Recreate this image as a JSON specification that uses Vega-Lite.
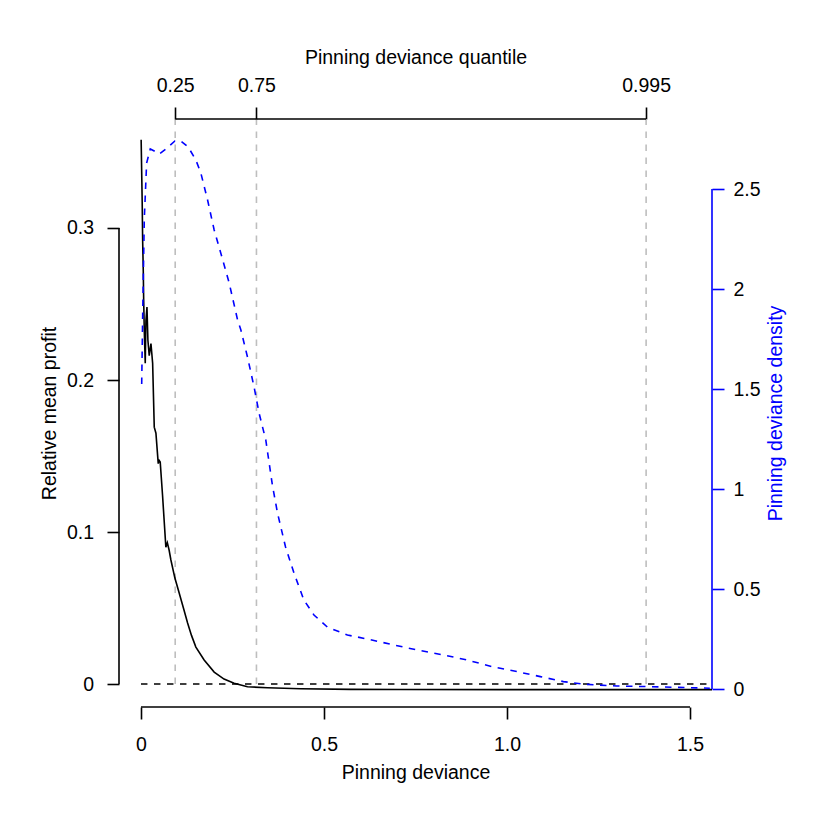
{
  "$schema": "https://vega.github.io/schema/vega-lite/v6.json",
  "width": 593,
  "height": 588,
  "autosize": {"type": "none"},
  "padding": {"left": 119, "top": 119, "right": 118, "bottom": 123},
  "background": "white",
  "config": {
    "view": {"stroke": null},
    "font": "Liberation Sans",
    "axis": {
      "labelFont": "Liberation Sans",
      "titleFont": "Liberation Sans",
      "labelFontSize": 19.5,
      "titleFontSize": 19.5,
      "labelColor": "black",
      "titleColor": "black",
      "titleFontWeight": "normal",
      "tickColor": "black",
      "tickWidth": 1.6,
      "tickSize": 12,
      "domain": false,
      "grid": false,
      "labelFlush": false,
      "labelOverlap": false
    }
  },
  "datasets": {
    "quantiles": [
      {"quantile": "0.25", "deviance": 0.0935},
      {"quantile": "0.75", "deviance": 0.3155},
      {"quantile": "0.995", "deviance": 1.38}
    ],
    "profit": [
      {"deviance": 0.0005, "profit": 0.358},
      {"deviance": 0.0033, "profit": 0.318},
      {"deviance": 0.0046, "profit": 0.292},
      {"deviance": 0.0063, "profit": 0.272},
      {"deviance": 0.0074, "profit": 0.253},
      {"deviance": 0.009, "profit": 0.233},
      {"deviance": 0.0117, "profit": 0.211},
      {"deviance": 0.0136, "profit": 0.239},
      {"deviance": 0.0164, "profit": 0.248},
      {"deviance": 0.019, "profit": 0.226},
      {"deviance": 0.0226, "profit": 0.216},
      {"deviance": 0.0273, "profit": 0.224},
      {"deviance": 0.0319, "profit": 0.211},
      {"deviance": 0.0363, "profit": 0.169},
      {"deviance": 0.0409, "profit": 0.165},
      {"deviance": 0.0472, "profit": 0.145},
      {"deviance": 0.0499, "profit": 0.147},
      {"deviance": 0.0526, "profit": 0.146},
      {"deviance": 0.059, "profit": 0.124},
      {"deviance": 0.068, "profit": 0.09},
      {"deviance": 0.072, "profit": 0.093},
      {"deviance": 0.077, "profit": 0.088},
      {"deviance": 0.0818, "profit": 0.0816},
      {"deviance": 0.0927, "profit": 0.0697},
      {"deviance": 0.1044, "profit": 0.0599},
      {"deviance": 0.116, "profit": 0.05},
      {"deviance": 0.1274, "profit": 0.0401},
      {"deviance": 0.138, "profit": 0.032},
      {"deviance": 0.15, "profit": 0.0243},
      {"deviance": 0.1726, "profit": 0.0158},
      {"deviance": 0.2, "profit": 0.0079},
      {"deviance": 0.227, "profit": 0.0033},
      {"deviance": 0.2544, "profit": 0.0005},
      {"deviance": 0.291, "profit": -0.0018},
      {"deviance": 0.3455, "profit": -0.0024},
      {"deviance": 0.436, "profit": -0.0031},
      {"deviance": 0.5727, "profit": -0.0035},
      {"deviance": 0.709, "profit": -0.0036},
      {"deviance": 1.0, "profit": -0.0037},
      {"deviance": 1.56, "profit": -0.0037}
    ],
    "density": [
      {"deviance": 0.002, "density": 1.525},
      {"deviance": 0.0046, "density": 1.86},
      {"deviance": 0.009, "density": 2.345},
      {"deviance": 0.0155, "density": 2.63},
      {"deviance": 0.0254, "density": 2.7},
      {"deviance": 0.0363, "density": 2.69},
      {"deviance": 0.0499, "density": 2.675},
      {"deviance": 0.0682, "density": 2.7},
      {"deviance": 0.0927, "density": 2.74},
      {"deviance": 0.109, "density": 2.74},
      {"deviance": 0.129, "density": 2.71},
      {"deviance": 0.15, "density": 2.645},
      {"deviance": 0.1636, "density": 2.58},
      {"deviance": 0.182, "density": 2.445},
      {"deviance": 0.2, "density": 2.295},
      {"deviance": 0.218, "density": 2.18},
      {"deviance": 0.241, "density": 2.03},
      {"deviance": 0.264, "density": 1.845},
      {"deviance": 0.273, "density": 1.795},
      {"deviance": 0.291, "density": 1.66},
      {"deviance": 0.309, "density": 1.51},
      {"deviance": 0.3226, "density": 1.38},
      {"deviance": 0.341, "density": 1.245},
      {"deviance": 0.359, "density": 1.02},
      {"deviance": 0.373, "density": 0.88},
      {"deviance": 0.395, "density": 0.71},
      {"deviance": 0.418, "density": 0.58},
      {"deviance": 0.445, "density": 0.445},
      {"deviance": 0.4726, "density": 0.37},
      {"deviance": 0.509, "density": 0.31},
      {"deviance": 0.564, "density": 0.27},
      {"deviance": 0.618, "density": 0.25},
      {"deviance": 0.691, "density": 0.22},
      {"deviance": 0.755, "density": 0.195},
      {"deviance": 0.827, "density": 0.17},
      {"deviance": 0.891, "density": 0.145},
      {"deviance": 0.963, "density": 0.11},
      {"deviance": 1.027, "density": 0.087},
      {"deviance": 1.091, "density": 0.062},
      {"deviance": 1.154, "density": 0.037},
      {"deviance": 1.209, "density": 0.024},
      {"deviance": 1.3, "density": 0.015},
      {"deviance": 1.382, "density": 0.012},
      {"deviance": 1.554, "density": 0.004}
    ]
  },
  "resolve": {"scale": {"x": "independent", "y": "independent"}},
  "layer": [
    {
      "data": {"name": "quantiles"},
      "mark": {"type": "rule", "color": "#BEBEBE", "strokeWidth": 1.6, "strokeDash": [6.5, 6.5]},
      "encoding": {
        "x": {
          "field": "deviance", "type": "quantitative",
          "scale": {"domain": [-0.06, 1.56], "nice": false, "zero": false},
          "axis": {
            "orient": "top",
            "values": [0.0935, 0.3155, 1.38],
            "labelExpr": "datum.value < 0.2 ? '0.25' : (datum.value < 1 ? '0.75' : '0.995')",
            "title": "Pinning deviance quantile",
            "titleX": 296.5, "titleY": -55.5,
            "titleBaseline": "alphabetic",
            "labelBaseline": "alphabetic",
            "labelPadding": 16
          }
        },
        "y": {"datum": 0, "type": "quantitative", "scale": {"domain": [-0.0151, 0.3717], "nice": false, "zero": false}, "axis": null},
        "y2": {"datum": 0.3717}
      }
    },
    {
      "data": {"values": [{}]},
      "mark": {"type": "rule", "color": "black", "strokeWidth": 1.6},
      "encoding": {
        "x": {"datum": 0.0935, "type": "quantitative", "scale": {"domain": [-0.06, 1.56], "nice": false, "zero": false}, "axis": null},
        "x2": {"datum": 1.38},
        "y": {"datum": 0.3717, "type": "quantitative", "scale": {"domain": [-0.0151, 0.3717], "nice": false, "zero": false}, "axis": null}
      }
    },
    {
      "data": {"values": [{}]},
      "mark": {"type": "rule", "color": "black", "strokeWidth": 1.6, "strokeDash": [6.5, 6.5]},
      "encoding": {
        "x": {"datum": 0, "type": "quantitative", "scale": {"domain": [-0.06, 1.56], "nice": false, "zero": false}, "axis": null},
        "x2": {"datum": 1.56},
        "y": {"datum": 0, "type": "quantitative", "scale": {"domain": [-0.0151, 0.3717], "nice": false, "zero": false}, "axis": null}
      }
    },
    {
      "data": {"name": "profit"},
      "mark": {"type": "line", "color": "black", "strokeWidth": 1.6, "clip": true},
      "encoding": {
        "x": {
          "field": "deviance", "type": "quantitative",
          "scale": {"domain": [-0.06, 1.56], "nice": false, "zero": false},
          "axis": {
            "orient": "bottom",
            "values": [0, 0.5, 1, 1.5],
            "labelExpr": "datum.value == 0 ? '0' : format(datum.value, '.1f')",
            "title": "Pinning deviance",
            "titleX": 296.5, "titleY": 71.3,
            "titleBaseline": "alphabetic",
            "labelBaseline": "alphabetic",
            "labelPadding": 31
          }
        },
        "y": {
          "field": "profit", "type": "quantitative",
          "scale": {"domain": [-0.0151, 0.3717], "nice": false, "zero": false},
          "axis": {
            "orient": "left",
            "values": [0, 0.1, 0.2, 0.3],
            "labelExpr": "datum.value == 0 ? '0' : format(datum.value, '.1f')",
            "title": "Relative mean profit",
            "titleX": -63.3, "titleY": 294,
            "titleAngle": 270,
            "titleBaseline": "alphabetic",
            "labelAlign": "right",
            "labelBaseline": "middle",
            "labelPadding": 13.5
          }
        }
      }
    },
    {
      "data": {"values": [{}]},
      "mark": {"type": "rule", "color": "black", "strokeWidth": 1.6},
      "encoding": {
        "x": {"datum": -0.06, "type": "quantitative", "scale": {"domain": [-0.06, 1.56], "nice": false, "zero": false}, "axis": null},
        "y": {"datum": 0, "type": "quantitative", "scale": {"domain": [-0.0151, 0.3717], "nice": false, "zero": false}, "axis": null},
        "y2": {"datum": 0.3}
      }
    },
    {
      "data": {"values": [{}]},
      "mark": {"type": "rule", "color": "black", "strokeWidth": 1.6},
      "encoding": {
        "x": {"datum": 0, "type": "quantitative", "scale": {"domain": [-0.06, 1.56], "nice": false, "zero": false}, "axis": null},
        "x2": {"datum": 1.5},
        "y": {"datum": -0.0151, "type": "quantitative", "scale": {"domain": [-0.0151, 0.3717], "nice": false, "zero": false}, "axis": null}
      }
    },
    {
      "data": {"name": "density"},
      "mark": {"type": "line", "color": "#0000FF", "strokeWidth": 1.6, "strokeDash": [6.5, 6.5], "clip": true},
      "encoding": {
        "x": {"field": "deviance", "type": "quantitative", "scale": {"domain": [-0.06, 1.56], "nice": false, "zero": false}, "axis": null},
        "y": {
          "field": "density", "type": "quantitative",
          "scale": {"domain": [-0.09, 2.85], "nice": false, "zero": false},
          "axis": {
            "orient": "right",
            "values": [0, 0.5, 1, 1.5, 2, 2.5],
            "labelExpr": "format(datum.value, '~g')",
            "title": "Pinning deviance density",
            "titleColor": "#0000FF",
            "tickColor": "#0000FF",
            "titleX": 69.3, "titleY": 294,
            "titleAngle": 270,
            "titleBaseline": "alphabetic",
            "labelAlign": "left",
            "labelBaseline": "middle",
            "labelPadding": 9
          }
        }
      }
    },
    {
      "data": {"values": [{}]},
      "mark": {"type": "rule", "color": "#0000FF", "strokeWidth": 1.6},
      "encoding": {
        "x": {"datum": 1.56, "type": "quantitative", "scale": {"domain": [-0.06, 1.56], "nice": false, "zero": false}, "axis": null},
        "y": {"datum": 0, "type": "quantitative", "scale": {"domain": [-0.09, 2.85], "nice": false, "zero": false}, "axis": null},
        "y2": {"datum": 2.5}
      }
    }
  ]
}
